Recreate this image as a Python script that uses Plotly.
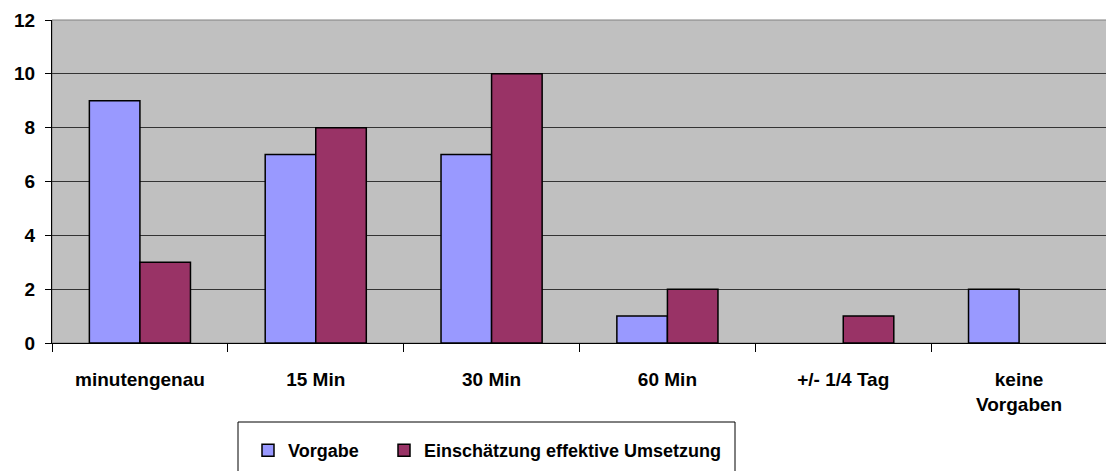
import plotly.graph_objects as go

categories = ["minutengenau", "15 Min", "30 Min", "60 Min", "+/- 1/4 Tag", "keine<br>Vorgaben"]
vorgabe = [9, 7, 7, 1, 0, 2]
einschaetzung = [3, 8, 10, 2, 1, 0]
series_names = ["Vorgabe", "Einschätzung effektive Umsetzung"]
y_ticks = [0, 2, 4, 6, 8, 10, 12]

FAM = "Liberation Sans, Arial, sans-serif"
bold = dict(family=FAM, size=19, color="black", weight="bold")

# page body has an 8px offset; layout numbers below are figure pixels
L, R, T, B = 44, 15, 12, 136
PW = 1114 - L - R
PH = 471 - T - B

def px_x(sx):
    return (sx - 8 - L) / PW

def px_y(sy):
    return (471 - B - (sy - 8)) / PH

def outline(vals):
    return [1.5 if v > 0 else 0 for v in vals]

fig = go.Figure()
fig.add_trace(go.Bar(x=categories, y=vorgabe, name=series_names[0], legend="legend",
                     marker=dict(color="#9999FF", line=dict(color="black", width=outline(vorgabe)))))
fig.add_trace(go.Bar(x=categories, y=einschaetzung, name=series_names[1], legend="legend2",
                     marker=dict(color="#993366", line=dict(color="black", width=outline(einschaetzung)))))

legfont = dict(family=FAM, size=18, color="black", weight="bold")
fig.update_layout(
    width=1114, height=471,
    margin=dict(l=L, r=R, t=T, b=B, autoexpand=False),
    paper_bgcolor="white", plot_bgcolor="#C0C0C0",
    barmode="group", bargap=0.425, bargroupgap=0,
    font=dict(family=FAM, size=18, color="black"),
    showlegend=True,
    legend=dict(x=px_x(248), xanchor="left", y=px_y(432), yanchor="top",
                bgcolor="rgba(0,0,0,0)", borderwidth=0, font=legfont),
    legend2=dict(x=px_x(384), xanchor="left", y=px_y(432), yanchor="top",
                 bgcolor="rgba(0,0,0,0)", borderwidth=0, font=legfont),
    shapes=[
        dict(type="rect", xref="paper", yref="paper", x0=0, x1=1, y0=0, y1=1,
             line=dict(color="#808080", width=1), layer="below"),
        dict(type="rect", xref="paper", yref="paper",
             x0=px_x(238), x1=px_x(735), y0=px_y(480), y1=px_y(422),
             line=dict(color="black", width=1), fillcolor="rgba(0,0,0,0)"),
    ],
)
fig.update_xaxes(type="category", tickson="boundaries", ticks="outside", ticklen=8,
                 tickcolor="black", showline=True, linecolor="black", linewidth=1,
                 showgrid=False, tickfont=bold, ticklabelstandoff=19, automargin=False)
fig.update_yaxes(range=[0, 12], tickvals=y_ticks, ticks="outside", ticklen=6,
                 tickcolor="black", showline=True, linecolor="black", linewidth=1,
                 showgrid=True, gridcolor="#333333", gridwidth=1, zeroline=False,
                 tickfont=bold, ticklabelstandoff=6, automargin=False)

fig.write_html("out.html")
